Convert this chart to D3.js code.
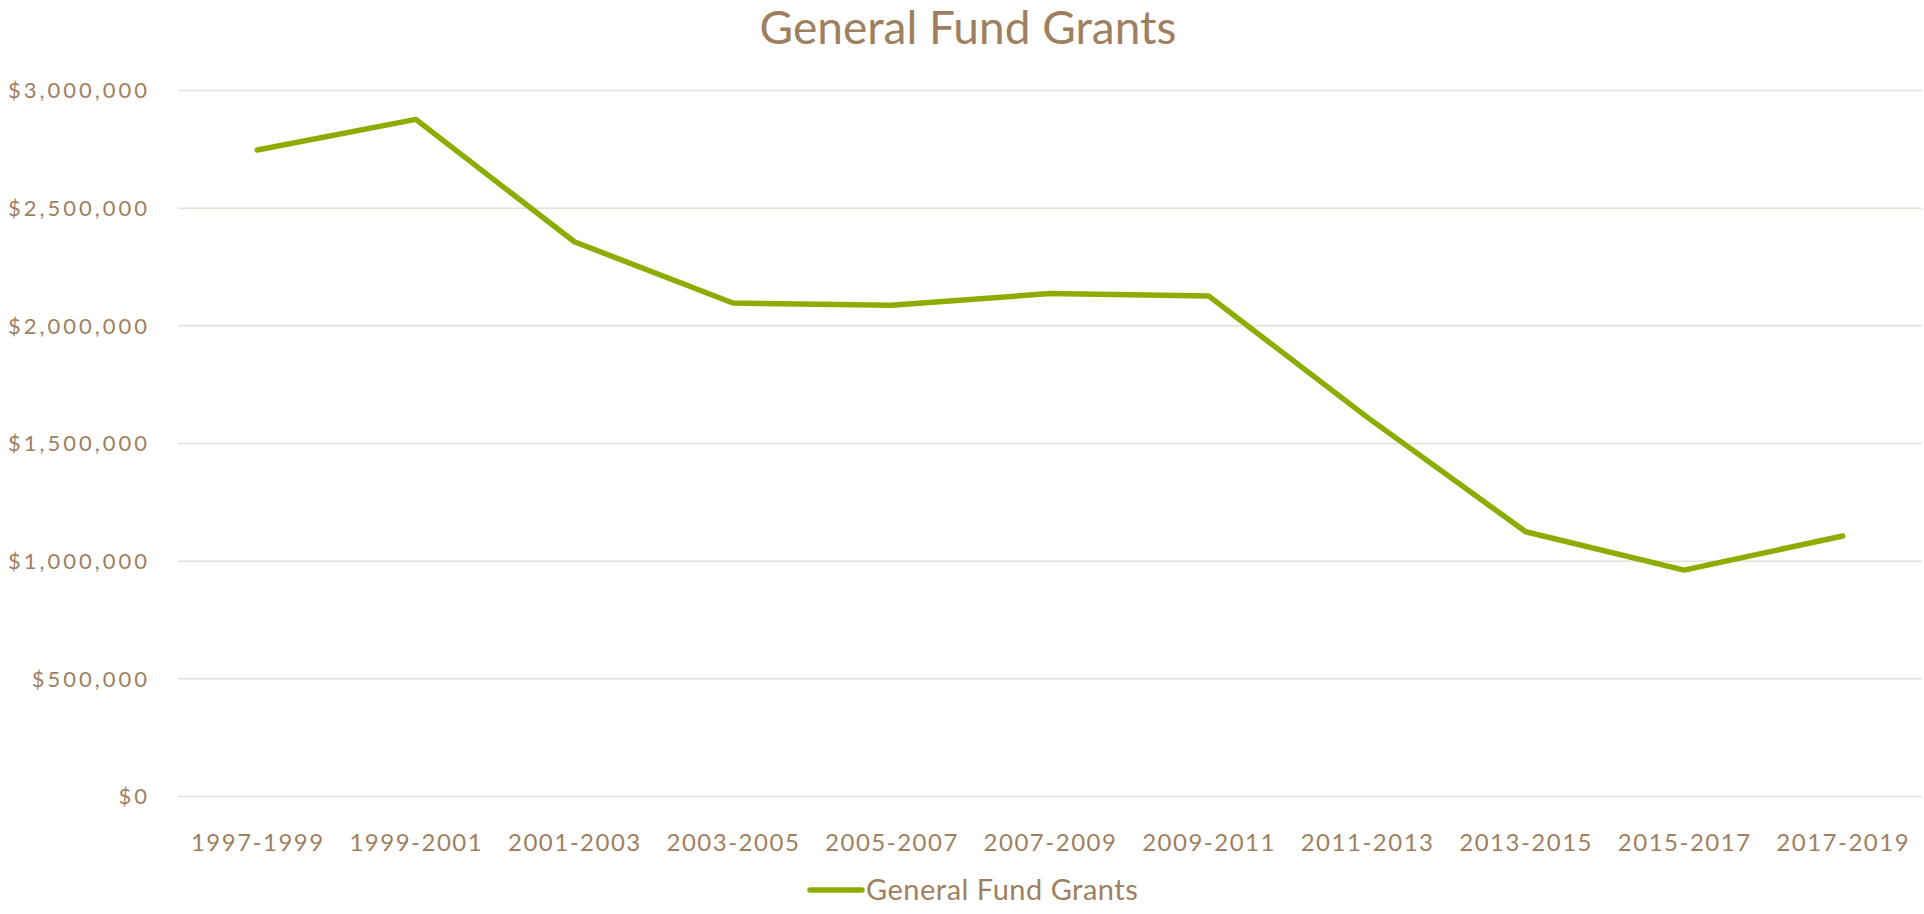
<!DOCTYPE html>
<html>
<head>
<meta charset="utf-8">
<script src="https://cdn.jsdelivr.net/npm/d3@7"></script>
<style>
    body { margin: 0; background: #fff; }
    svg { display: block; }
    .axis text { font-family: Lato, "Open Sans", sans-serif; fill: #9e8060; }
    .axis path { display: none; }
</style>
</head>
<body>
<div id="chart"></div>
<script>
        const periods = ["1997-1999", "1999-2001", "2001-2003", "2003-2005", "2005-2007", "2007-2009",
            "2009-2011", "2011-2013", "2013-2015", "2015-2017", "2017-2019"];
        const grants = [2745000, 2875000, 2355000, 2095000, 2085000, 2135000,
            2125000, 1610000, 1123000, 960000, 1105000];
        const yTicks = [0, 500000, 1000000, 1500000, 2000000, 2500000, 3000000];
        const seriesName = "General Fund Grants";
        const title = "General Fund Grants";

        const width = 1924;
        const height = 914;
        const margin = { top: 90, right: 2, bottom: 118, left: 178 };
        const textColor = "#9e8060";
        const lineColor = "#8cad00";

        const svg = d3.select("#chart")
            .append("svg")
            .attr("width", width)
            .attr("height", height);

        const x = d3.scalePoint()
            .domain(periods)
            .range([margin.left, width - margin.right])
            .padding(0.5);

        const y = d3.scaleLinear()
            .domain([0, 3000000])
            .range([height - margin.bottom, margin.top]);

        // gridlines + y labels
        const yAxis = svg.append("g")
            .attr("class", "axis")
            .attr("transform", `translate(${margin.left},0)`)
            .call(d3.axisLeft(y)
                .tickValues(yTicks)
                .tickSize(-(width - margin.left - margin.right))
                .tickPadding(28)
                .tickFormat(d => "$" + d3.format(",")(d)));

        yAxis.selectAll(".tick line")
            .attr("stroke", "#e6e0d8")
            .attr("stroke-width", 1.5);
        yAxis.selectAll("text")
            .style("font-size", "22px")
            .style("letter-spacing", "3px")
            .attr("dy", "0.35em");

        // x labels
        const xAxis = svg.append("g")
            .attr("class", "axis")
            .attr("transform", `translate(0,${height - margin.bottom})`)
            .call(d3.axisBottom(x).tickSize(0).tickPadding(47));

        xAxis.selectAll("text")
            .style("font-size", "24px")
            .style("letter-spacing", "1.5px")
            .attr("dy", "0.35em");

        // line
        const line = d3.line()
            .x((d, i) => x(periods[i]))
            .y(d => y(d));

        svg.append("path")
            .datum(grants)
            .attr("fill", "none")
            .attr("stroke", lineColor)
            .attr("stroke-width", 5.5)
            .attr("stroke-linejoin", "round")
            .attr("stroke-linecap", "round")
            .attr("d", line);

        // title
        svg.append("text")
            .attr("x", 968)
            .attr("y", 44)
            .attr("text-anchor", "middle")
            .style("font-family", "Lato, 'Open Sans', sans-serif")
            .style("font-size", "46px")
            .style("fill", textColor)
            .text(title);

        // legend
        const legend = svg.append("g")
            .attr("transform", "translate(810,890)");

        legend.append("line")
            .attr("x1", 0)
            .attr("x2", 52)
            .attr("stroke", lineColor)
            .attr("stroke-width", 5.5)
            .attr("stroke-linecap", "round");

        legend.append("text")
            .attr("x", 56)
            .attr("dy", "0.35em")
            .style("font-family", "Lato, 'Open Sans', sans-serif")
            .style("font-size", "29px")
            .style("letter-spacing", "0.5px")
            .style("fill", textColor)
            .text(seriesName);
</script>
</body>
</html>
